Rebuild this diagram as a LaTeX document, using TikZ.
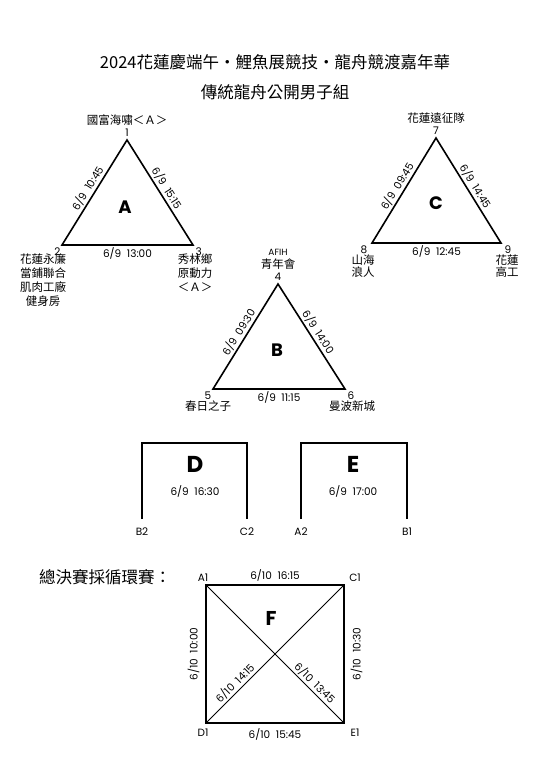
\documentclass[tikz,border=0pt]{standalone}
\usepackage{fontspec}
\setmainfont{Poppins}
\newfontfamily\cjk{Noto Sans CJK TC}
\usetikzlibrary{positioning,calc}
\tikzset{
    % Group outline - triangles and brackets
    groupline/.style={
        draw=black,
        line width=1.6pt,
        line join=miter
    },
    % Final square outline
    finalline/.style={
        draw=black,
        line width=1.3pt
    },
    % Final square diagonals
    diagline/.style={
        draw=black,
        line width=0.9pt
    },
    % Match date and time on an edge
    matchtime/.style={
        font=\fontsize{10.5}{11}\selectfont,
        inner sep=1.5pt
    },
    % Seed numbers and slot codes
    seed/.style={
        font=\fontsize{10.5}{11}\selectfont,
        inner sep=0.5pt
    },
    % Team names
    team/.style={
        font=\cjk\fontsize{11.5}{14}\selectfont,
        align=center,
        inner sep=0.5pt
    },
    % Group letter
    grouplbl/.style={
        font=\bfseries\fontsize{18}{18}\selectfont,
        inner sep=0pt
    },
    % Heading text
    heading/.style={
        font=\cjk\fontsize{16.5}{18}\selectfont,
        inner sep=0pt
    }
}
\begin{document}
\begin{tikzpicture}[x=1pt, y=-1pt]

    \useasboundingbox (0,0) rectangle (550,773);

    % ========== TITLE ==========
    \node[heading] (title) at (275,62) {2024花蓮慶端午・鯉魚展競技・龍舟競渡嘉年華};
    \node[heading] (subtitle) at (275,92) {傳統龍舟公開男子組};

    % ========== GROUP A ==========
    \coordinate (a1) at (127,140);
    \coordinate (a2) at (62,245);
    \coordinate (a3) at (193,245);
    \draw[groupline] (a2) -- node[matchtime, sloped, above] {6/9\ \ 10:45} (a1)
        -- node[matchtime, sloped, above] {6/9\ \ 15:15} (a3)
        -- node[matchtime, below] {6/9\ \ 13:00} cycle;
    \node[grouplbl] (glA) at (125,207) {A};
    \node[seed, above=3pt of a1] (n1) {1};
    \node[team, above=2pt of n1] (t1) {國富海嘯＜Ａ＞};
    \node[seed, below left=2pt and 1pt of a2] (n2) {2};
    \node[team, anchor=north] (t2) at (43,253) {花蓮永廉\\當鋪聯合\\肌肉工廠\\健身房};
    \node[seed, below right=2pt and 2pt of a3] (n3) {3};
    \node[team, anchor=north] (t3) at (195,253) {秀林鄉\\原動力\\＜Ａ＞};

    % ========== GROUP C ==========
    \coordinate (c1) at (436,138);
    \coordinate (c2) at (372,243);
    \coordinate (c3) at (501,243);
    \draw[groupline] (c2) -- node[matchtime, sloped, above] {6/9\ \ 09:45} (c1)
        -- node[matchtime, sloped, above] {6/9\ \ 14:45} (c3)
        -- node[matchtime, below] {6/9\ \ 12:45} cycle;
    \node[grouplbl] (glC) at (436,203) {C};
    \node[seed, above=3pt of c1] (n7) {7};
    \node[team, above=2pt of n7] (t7) {花蓮遠征隊};
    \node[seed, below left=2pt and 4pt of c2] (n8) {8};
    \node[team, anchor=north, font=\cjk\fontsize{11.5}{12.5}\selectfont] (t8) at (363,254) {山海\\浪人};
    \node[seed, below right=2pt and 3pt of c3] (n9) {9};
    \node[team, anchor=north, font=\cjk\fontsize{11.5}{12.5}\selectfont] (t9) at (507,254) {花蓮\\高工};

    % ========== GROUP B ==========
    \coordinate (b1) at (278,284);
    \coordinate (b2) at (213,389);
    \coordinate (b3) at (345,389);
    \draw[groupline] (b2) -- node[matchtime, sloped, above] {6/9\ \ 09:30} (b1)
        -- node[matchtime, sloped, above] {6/9\ \ 14:00} (b3)
        -- node[matchtime, below] {6/9\ \ 11:15} cycle;
    \node[grouplbl] (glB) at (277,350) {B};
    \node[seed, above=3pt of b1] (n4) {4};
    \node[team, above=2pt of n4] (t4) {青年會};
    \node[seed, above=2pt of t4, font=\fontsize{9}{9}\selectfont] (t4a) {AFIH};
    \node[seed, below left=2pt and 1pt of b2] (n5) {5};
    \node[team, below=11pt of b2, xshift=-5pt] (t5) {春日之子};
    \node[seed, below right=2pt and 2pt of b3] (n6) {6};
    \node[team, below=11pt of b3, xshift=7pt] (t6) {曼波新城};

    % ========== MATCH D ==========
    \coordinate (dl) at (142,519);
    \coordinate (dr) at (247,519);
    \draw[groupline] (dl) -- ++(0,-76) -| (dr);
    \node[grouplbl, font=\bfseries\fontsize{23}{23}\selectfont] (glD) at (195,464) {D};
    \node[matchtime] (timeD) at (195,491) {6/9\ \ 16:30};
    \node[seed, below=8pt of dl] (sB2) {B2};
    \node[seed, below=8pt of dr] (sC2) {C2};

    % ========== MATCH E ==========
    \coordinate (el) at (301,519);
    \coordinate (er) at (407,519);
    \draw[groupline] (el) -- ++(0,-76) -| (er);
    \node[grouplbl, font=\bfseries\fontsize{23}{23}\selectfont] (glE) at (353,464) {E};
    \node[matchtime] (timeE) at (353,491) {6/9\ \ 17:00};
    \node[seed, below=8pt of el] (sA2) {A2};
    \node[seed, below=8pt of er] (sB1) {B1};

    % ========== FINAL ROUND ROBIN ==========
    \node[heading] (final) at (105,577) {總決賽採循環賽：};
    \coordinate (fa) at (206,585);
    \coordinate (fc) at (344,585);
    \coordinate (fd) at (206,723);
    \coordinate (fe) at (344,723);
    \draw[finalline] (fa) -- node[matchtime, above=2pt] {6/10\ \ 16:15} (fc)
        -- (fe) -- node[matchtime, below=3pt] {6/10\ \ 15:45} (fd) -- cycle;
    \path (fd) -- node[matchtime, sloped, above=5pt] {6/10\ \ 10:00} (fa);
    \path (fe) -- node[matchtime, sloped, below=5pt] {6/10\ \ 10:30} (fc);
    \draw[diagline] (fd) -- node[matchtime, sloped, above, pos=0.25] {6/10\ \ 14:15} (fc);
    \draw[diagline] (fa) -- node[matchtime, sloped, above, pos=0.75] {6/10\ \ 13:45} (fe);
    \node[grouplbl, font=\bfseries\fontsize{20}{20}\selectfont] (glF) at (271,618) {F};
    \node[seed, above=3pt of fa, xshift=-3pt] (sA1) {A1};
    \node[seed, above=3pt of fc, xshift=11pt] (sC1) {C1};
    \node[seed, below=5pt of fd, xshift=-3pt] (sD1) {D1};
    \node[seed, below=5pt of fe, xshift=11pt] (sE1) {E1};

\end{tikzpicture}
\end{document}
